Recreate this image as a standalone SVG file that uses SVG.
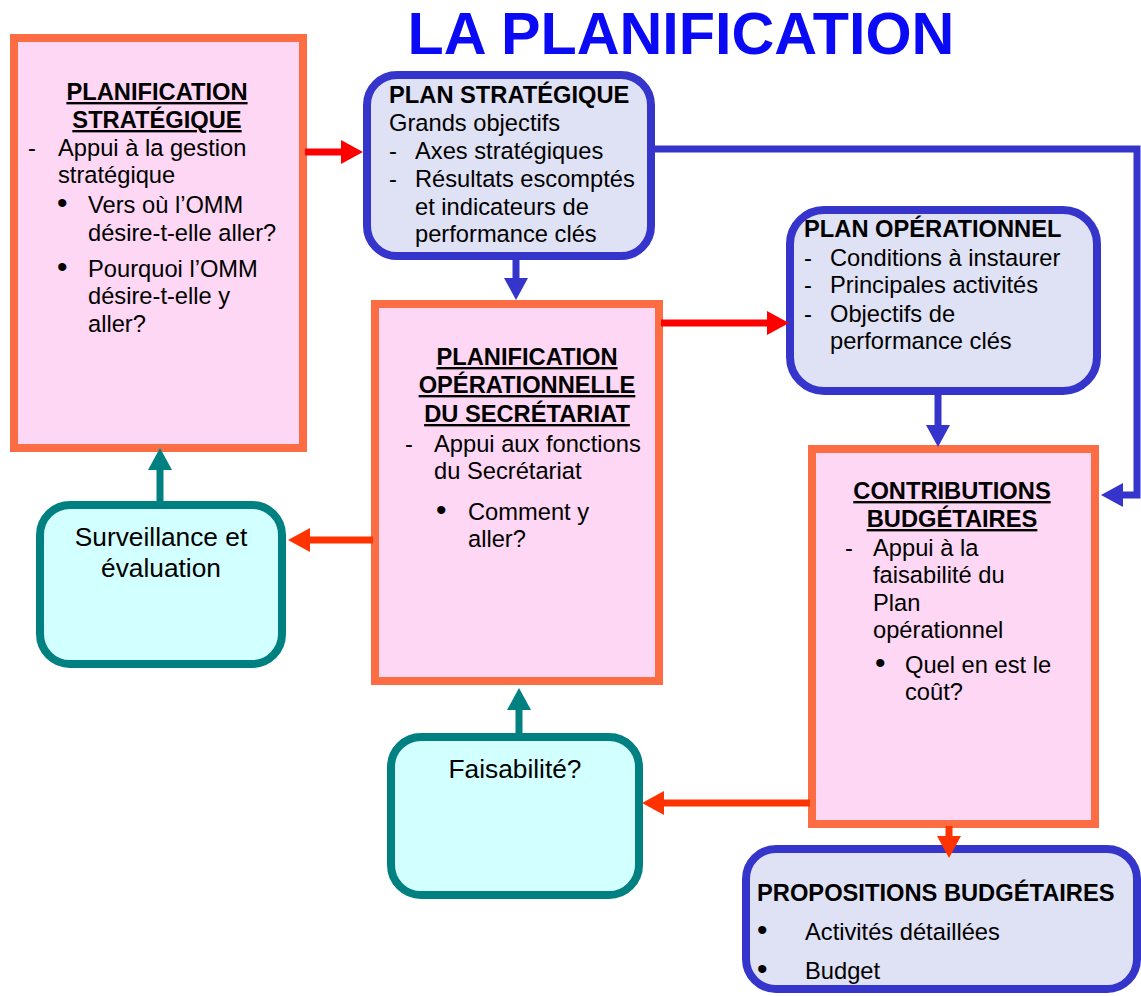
<svg xmlns="http://www.w3.org/2000/svg" width="1141" height="996" viewBox="0 0 1141 996">
<style>
text{font-family:"Liberation Sans",Arial,sans-serif;fill:#000}
.b{font-size:23.7px}
.d{font-size:30px}
.h{font-size:23.7px;font-weight:bold}
.u{text-decoration:underline}
.c{text-anchor:middle}
.g{font-size:26.3px;text-anchor:middle}
.pink{fill:#FDD7F3;stroke:#FC6D44;stroke-width:8}
.lav{fill:#DFE1F4;stroke:#3535CC;stroke-width:8}
.cyan{fill:#D2FFFF;stroke:#008080;stroke-width:8}
.ln{fill:none;stroke-width:7}
</style>
<defs>
<marker id="aR" viewBox="0 0 22 24" refX="6" refY="12" markerWidth="22" markerHeight="24" markerUnits="userSpaceOnUse" orient="auto"><path d="M0,0L22,12L0,24z" fill="#FF0000"/></marker>
<marker id="aO" viewBox="0 0 22 24" refX="6" refY="12" markerWidth="22" markerHeight="24" markerUnits="userSpaceOnUse" orient="auto"><path d="M0,0L22,12L0,24z" fill="#FF3300"/></marker>
<marker id="aB" viewBox="0 0 22 24" refX="6" refY="12" markerWidth="22" markerHeight="24" markerUnits="userSpaceOnUse" orient="auto"><path d="M0,0L22,12L0,24z" fill="#3535CC"/></marker>
<marker id="aT" viewBox="0 0 22 24" refX="6" refY="12" markerWidth="22" markerHeight="24" markerUnits="userSpaceOnUse" orient="auto"><path d="M0,0L22,12L0,24z" fill="#008080"/></marker>
</defs>
<text x="681" y="54" text-anchor="middle" style="font-size:59.3px;font-weight:bold;fill:#0A0AF5">LA PLANIFICATION</text>

<g id="planif-strategique">
<rect class="pink" x="14" y="38" width="289" height="410"/>
<text class="h u c" x="157" y="100">PLANIFICATION</text>
<text class="h u c" x="157" y="128">STRATÉGIQUE</text>
<text class="b" x="28" y="156">-</text>
<text class="b" x="58" y="156">Appui à la gestion</text>
<text class="b" x="58" y="183">stratégique</text>
<text class="d" x="57" y="213">•</text>
<text class="b" x="88" y="213">Vers où l’OMM</text>
<text class="b" x="88" y="241">désire-t-elle aller?</text>
<text class="d" x="57" y="277">•</text>
<text class="b" x="88" y="277">Pourquoi l’OMM</text>
<text class="b" x="88" y="304">désire-t-elle y</text>
<text class="b" x="88" y="332">aller?</text>
</g>

<g id="plan-strategique">
<rect class="lav" x="367" y="75" width="284" height="181" rx="30"/>
<text class="h" x="389" y="103">PLAN STRATÉGIQUE</text>
<text class="b" x="389" y="131">Grands objectifs</text>
<text class="b" x="389" y="159">-</text>
<text class="b" x="415" y="159">Axes stratégiques</text>
<text class="b" x="389" y="187">-</text>
<text class="b" x="415" y="187">Résultats escomptés</text>
<text class="b" x="415" y="215">et indicateurs de</text>
<text class="b" x="415" y="242">performance clés</text>
</g>

<g id="plan-operationnel">
<rect class="lav" x="790" y="210" width="307" height="181" rx="34"/>
<text class="h" x="804" y="237">PLAN OPÉRATIONNEL</text>
<text class="b" x="804" y="266">-</text>
<text class="b" x="830" y="266">Conditions à instaurer</text>
<text class="b" x="804" y="293">-</text>
<text class="b" x="830" y="293">Principales activités</text>
<text class="b" x="804" y="322">-</text>
<text class="b" x="830" y="322">Objectifs de</text>
<text class="b" x="830" y="349">performance clés</text>
</g>

<g id="planif-operationnelle">
<rect class="pink" x="375" y="304" width="284" height="377"/>
<text class="h u c" x="527" y="365">PLANIFICATION</text>
<text class="h u c" x="527" y="393">OPÉRATIONNELLE</text>
<text class="h u c" x="527" y="422">DU SECRÉTARIAT</text>
<text class="b" x="405" y="452">-</text>
<text class="b" x="434" y="452">Appui aux fonctions</text>
<text class="b" x="434" y="479">du Secrétariat</text>
<text class="d" x="436" y="520">•</text>
<text class="b" x="468" y="520">Comment y</text>
<text class="b" x="468" y="547">aller?</text>
</g>

<g id="surveillance">
<rect class="cyan" x="40" y="505" width="242" height="159" rx="30"/>
<text class="g" x="161" y="546">Surveillance et</text>
<text class="g" x="161" y="577">évaluation</text>
</g>

<g id="faisabilite">
<rect class="cyan" x="391" y="737" width="248" height="158" rx="30"/>
<text class="g" x="515" y="778">Faisabilité?</text>
</g>

<g id="contributions">
<rect class="pink" x="812" y="449" width="283" height="375"/>
<text class="h u c" x="952" y="499">CONTRIBUTIONS</text>
<text class="h u c" x="952" y="527">BUDGÉTAIRES</text>
<text class="b" x="845" y="556">-</text>
<text class="b" x="873" y="556">Appui à la</text>
<text class="b" x="873" y="583">faisabilité du</text>
<text class="b" x="873" y="611">Plan</text>
<text class="b" x="873" y="638">opérationnel</text>
<text class="d" x="875" y="673">•</text>
<text class="b" x="905" y="673">Quel en est le</text>
<text class="b" x="905" y="700">coût?</text>
</g>

<g id="propositions">
<rect class="lav" x="746" y="849" width="391" height="140" rx="30"/>
<text class="h" x="757" y="901">PROPOSITIONS BUDGÉTAIRES</text>
<text class="d" x="757" y="940">•</text>
<text class="b" x="805" y="940">Activités détaillées</text>
<text class="d" x="757" y="979">•</text>
<text class="b" x="805" y="979">Budget</text>
</g>

<g id="connectors">
<path class="ln" stroke="#FF0000" d="M305,152H347" marker-end="url(#aR)"/>
<path class="ln" stroke="#3535CC" d="M516,258V284" marker-end="url(#aB)"/>
<path class="ln" stroke="#3535CC" d="M655,149H1137V495H1117" marker-end="url(#aB)"/>
<path class="ln" stroke="#FF0000" d="M661,323H773" marker-end="url(#aR)"/>
<path class="ln" stroke="#3535CC" d="M938,393V431" marker-end="url(#aB)"/>
<path class="ln" stroke="#FF3300" d="M373,540H304" marker-end="url(#aO)"/>
<path class="ln" stroke="#008080" d="M160,503V464" marker-end="url(#aT)"/>
<path class="ln" stroke="#008080" d="M519,735V704" marker-end="url(#aT)"/>
<path class="ln" stroke="#FF3300" d="M810,803H658" marker-end="url(#aO)"/>
<path class="ln" stroke="#FF3300" d="M949,826V842" marker-end="url(#aO)"/>
</g>
</svg>
